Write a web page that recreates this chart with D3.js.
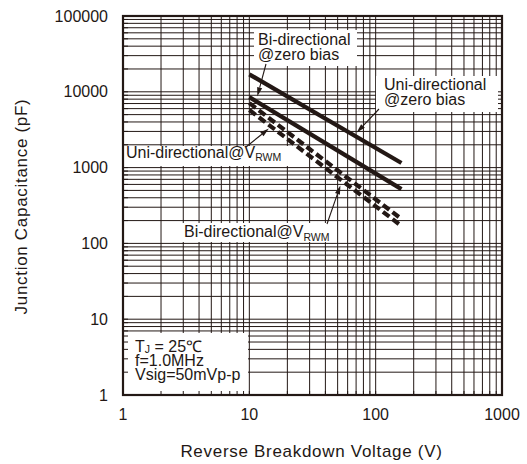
<!DOCTYPE html>
<html>
<head>
<meta charset="utf-8">
<script src="https://cdn.jsdelivr.net/npm/d3@7"></script>
<style>
  html, body { margin: 0; padding: 0; background: #fff; }
  svg { display: block; }
  text { font-family: "Liberation Sans", Arial, Helvetica, sans-serif; fill: #231815; }
</style>
</head>
<body>
<svg id="chart" width="527" height="464"></svg>
<script>
// Junction capacitance vs reverse breakdown voltage (log-log)
const voltage = [10, 160];                 // V, start and end of each curve
const uniZeroBias = [17000, 1150];         // pF
const biZeroBias = [8500, 520];            // pF
const uniVrwm = [7100, 210];               // pF
const biVrwm = [5750, 170];                // pF

const xTicks = [1, 10, 100, 1000];
const yTicks = [1, 10, 100, 1000, 10000, 100000];
const xTitle = "Reverse Breakdown Voltage (V)";
const yTitle = "Junction Capacitance (pF)";
const conditions = [["T", "J", " = 25℃"], ["f=1.0MHz"], ["Vsig=50mVp-p"]];

const ink = "#231815";
const svg = d3.select("#chart");
const plot = { left: 123, right: 502, top: 16, bottom: 395 };

const x = d3.scaleLog().domain([1, 1000]).range([plot.left, plot.right]);
const y = d3.scaleLog().domain([1, 100000]).range([plot.bottom, plot.top]);

// log grid: every k*10^n inside the domain
function logGrid(domain) {
  const out = [];
  for (let e = Math.log10(domain[0]); e < Math.log10(domain[1]); e++) {
    for (let k = 1; k <= 9; k++) out.push(k * Math.pow(10, e));
  }
  out.push(domain[1]);
  return out;
}
const xGrid = logGrid(x.domain());
const yGrid = logGrid(y.domain());

const grid = svg.append("g").attr("stroke", ink).attr("stroke-width", 1);
grid.selectAll("line.v").data(xGrid).join("line").attr("class", "v")
  .attr("x1", d => x(d)).attr("x2", d => x(d))
  .attr("y1", plot.top).attr("y2", plot.bottom);
grid.selectAll("line.h").data(yGrid).join("line").attr("class", "h")
  .attr("y1", d => y(d)).attr("y2", d => y(d))
  .attr("x1", plot.left).attr("x2", plot.right);

// series
const series = [
  { name: "uniZero", values: uniZeroBias, dash: null },
  { name: "biZero", values: biZeroBias, dash: null },
  { name: "uniVrwm", values: uniVrwm, dash: "8,4" },
  { name: "biVrwm", values: biVrwm, dash: "8,4" }
];
const byName = Object.fromEntries(series.map(s => [s.name, s]));

// value of a series at voltage v (straight line in log-log space)
function seriesAt(s, v) {
  const t = (Math.log10(v) - Math.log10(voltage[0])) / (Math.log10(voltage[1]) - Math.log10(voltage[0]));
  const lc = Math.log10(s.values[0]) + t * (Math.log10(s.values[1]) - Math.log10(s.values[0]));
  return Math.pow(10, lc);
}

// annotation labels with white backing
const notes = [
  { lines: [["Bi-directional"], ["@zero bias"]], box: [254, 30, 357, 66], tx: 258, ty: [45, 60],
    tail: [266, 64], target: "biZero", at: 11.3, gap: 5 },
  { lines: [["Uni-directional"], ["@zero bias"]], box: [376, 76, 498, 112], tx: 384, ty: [90, 105],
    tail: [379, 109], target: "uniZero", at: 67.4, gap: 4 },
  { lines: [["Uni-directional@V", "RWM"]], box: [124, 146, 288, 166], tx: 126, ty: [157.5],
    tail: [246, 147], target: "biVrwm", at: 14.9, gap: 3 },
  { lines: [["Bi-directional@V", "RWM"]], box: [180, 223, 334, 242], tx: 184, ty: [237],
    tail: [327, 224], target: "biVrwm", at: 54.2, gap: 5 }
];

const boxes = svg.append("g").attr("fill", "#fff");
notes.forEach(n => {
  boxes.append("rect").attr("x", n.box[0]).attr("y", n.box[1])
    .attr("width", n.box[2] - n.box[0]).attr("height", n.box[3] - n.box[1]);
});
boxes.append("rect").attr("x", plot.left + 1).attr("y", 333)
  .attr("width", 248 - plot.left - 1).attr("height", plot.bottom - 333 - 1);

// curves
const line = d3.line().x(d => x(d[0])).y(d => y(d[1]));
svg.append("g").selectAll("path").data(series).join("path")
  .attr("d", s => line(voltage.map((v, i) => [v, s.values[i]])))
  .attr("fill", "none").attr("stroke", ink).attr("stroke-width", 4.2)
  .attr("stroke-dasharray", s => s.dash);

// arrows from labels to curves
const arrows = svg.append("g");
notes.forEach(n => {
  const px = x(n.at), py = y(seriesAt(byName[n.target], n.at));
  const dx = n.tail[0] - px, dy = n.tail[1] - py, len = Math.hypot(dx, dy);
  const ux = dx / len, uy = dy / len;
  const tipX = px + ux * n.gap, tipY = py + uy * n.gap;
  const headLen = 9, headW = 2.6;
  const bx = tipX + ux * headLen, by = tipY + uy * headLen;
  arrows.append("line").attr("x1", n.tail[0]).attr("y1", n.tail[1]).attr("x2", bx).attr("y2", by)
    .attr("stroke", ink).attr("stroke-width", 1.1);
  arrows.append("path")
    .attr("d", `M${tipX},${tipY}L${bx - uy * headW},${by + ux * headW}L${bx + uy * headW},${by - ux * headW}Z`)
    .attr("fill", ink);
});

// label text
function writeLine(g, parts, tx, ty, size, subSize, subDy) {
  const t = g.append("text").attr("x", tx).attr("y", ty).style("font-size", size + "px");
  parts.forEach((p, i) => {
    if (i % 2 === 1) {
      t.append("tspan").text(p).style("font-size", subSize + "px").attr("dy", subDy);
    } else {
      const ts = t.append("tspan").text(p);
      if (i > 0) ts.attr("dy", -subDy);
    }
  });
}
const labels = svg.append("g");
notes.forEach(n => {
  n.lines.forEach((parts, i) => writeLine(labels, parts, n.tx, n.ty[i], 16, 10.5, 3.5));
});
[352, 366, 380].forEach((ty, i) => writeLine(labels, conditions[i], 135, ty, 16, 10.5, 1));

// frame and inner minor ticks
svg.append("rect").attr("x", plot.left).attr("y", plot.top)
  .attr("width", plot.right - plot.left).attr("height", plot.bottom - plot.top)
  .attr("fill", "none").attr("stroke", ink).attr("stroke-width", 2.2);
const ticks = svg.append("g").attr("stroke", ink).attr("stroke-width", 1);
ticks.selectAll("line.bx").data(xGrid).join("line").attr("class", "bx")
  .attr("x1", d => x(d)).attr("x2", d => x(d)).attr("y1", plot.bottom).attr("y2", plot.bottom - 4);
ticks.selectAll("line.ly").data(yGrid).join("line").attr("class", "ly")
  .attr("y1", d => y(d)).attr("y2", d => y(d)).attr("x1", plot.left).attr("x2", plot.left + 5);

// axis tick labels
svg.append("g").selectAll("text").data(xTicks).join("text")
  .attr("x", d => x(d)).attr("y", 420).attr("text-anchor", "middle")
  .style("font-size", "16px").text(d => d);
svg.append("g").selectAll("text").data(yTicks).join("text")
  .attr("x", 108).attr("y", d => y(d)).attr("dy", "0.35em").attr("text-anchor", "end")
  .style("font-size", "16px").text(d => d);

// axis titles
svg.append("text").attr("x", (plot.left + plot.right) / 2 - 1).attr("y", 457)
  .attr("text-anchor", "middle").style("font-size", "17px").style("letter-spacing", "0.7px")
  .text(xTitle);
svg.append("text").attr("transform", `translate(27,${(plot.top + plot.bottom) / 2 + 1}) rotate(-90)`)
  .attr("text-anchor", "middle").style("font-size", "17px").style("letter-spacing", "0.7px")
  .text(yTitle);
</script>
</body>
</html>
